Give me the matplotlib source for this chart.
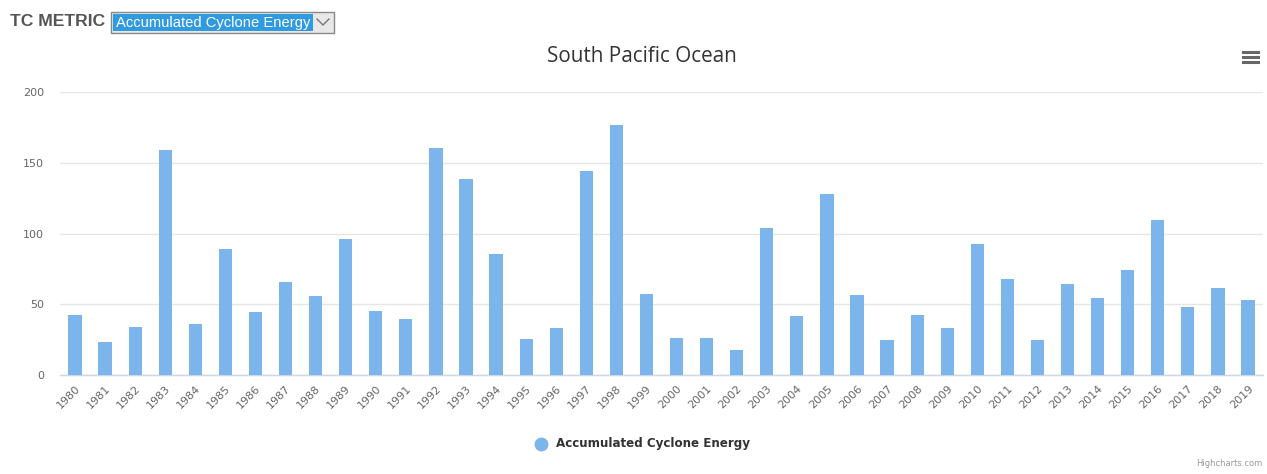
import matplotlib
matplotlib.use("Agg")
import matplotlib.pyplot as plt
from matplotlib.patches import Rectangle
from matplotlib.lines import Line2D

years = [str(y) for y in range(1980, 2020)]
ace = [42.7, 23.3, 34.0, 159.2, 36.1, 88.9, 44.3, 65.6, 55.9, 96.0,
       45.0, 39.6, 160.1, 138.7, 85.8, 25.2, 33.3, 144.3, 176.4, 57.5,
       26.2, 26.2, 17.5, 104.2, 41.7, 127.8, 56.8, 24.5, 42.7, 33.3,
       92.9, 67.7, 24.5, 64.2, 54.5, 74.3, 109.7, 47.9, 61.6, 52.8]
yticks = [0, 50, 100, 150, 200]
series_name = "Accumulated Cyclone Energy"
title = "South Pacific Ocean"

W, H = 1267, 474
fig = plt.figure(figsize=(W / 100, H / 100), dpi=100)
fig.patch.set_facecolor("white")

ax = fig.add_axes([60 / W, 1 - 375 / H, (1263 - 60) / W, (375 - 92) / H])
x = list(range(len(years)))
ax.bar(x, ace, width=0.44, color="#7cb5ec", zorder=3)
ax.set_xlim(-0.5, len(years) - 0.5)
ax.set_ylim(0, 200)
ax.set_yticks(yticks)
ax.set_yticklabels([str(v) for v in yticks], fontsize=8, color="#666666")
ax.set_xticks(x)
ax.set_xticklabels(years, rotation=45, ha="right", rotation_mode="anchor",
                   fontsize=8, color="#666666")
ax.tick_params(axis="y", length=0, pad=11.5)
ax.tick_params(axis="x", length=0, pad=6)
ax.grid(axis="y", color="#e6e6e6", linewidth=1, zorder=0)
for s in ["top", "right", "left"]:
    ax.spines[s].set_visible(False)
ax.spines["bottom"].set_color("#ccd6eb")
ax.spines["bottom"].set_linewidth(1)
ax.set_facecolor("white")

# Title
fig.text(642 / W, 1 - 56 / H, title, ha="center", va="center", fontsize=14.9,
         color="#333333", family="Open Sans")

# Header: TC METRIC + dropdown
fig.text(10 / W, 1 - 22 / H, "TC METRIC", ha="left", va="center", fontsize=12.6,
         fontweight="bold", color="#555555", family="Liberation Sans")
fig.patches.append(Rectangle((111 / W, 1 - 33 / H), (334 - 111) / W, 21 / H,
                             transform=fig.transFigure, facecolor="#e8e8e8",
                             edgecolor="#888888", linewidth=1))
fig.patches.append(Rectangle((113 / W, 1 - 31 / H), (313 - 113) / W, 17 / H,
                             transform=fig.transFigure, facecolor="#2f9ae0",
                             edgecolor="none"))
fig.text(116 / W, 1 - 22.5 / H, series_name, ha="left", va="center", fontsize=10.6,
         color="white", family="Liberation Sans")
fig.add_artist(Line2D([317 / W, 323 / W, 329 / W],
                      [1 - 19 / H, 1 - 25 / H, 1 - 19 / H],
                      transform=fig.transFigure, color="#777777", linewidth=1))

# Hamburger menu
for yy in [52, 57, 62]:
    fig.add_artist(Line2D([1243 / W, 1258 / W], [1 - yy / H, 1 - yy / H],
                          transform=fig.transFigure, color="#666666", linewidth=2.2))

# Legend
fig.add_artist(Line2D([541 / W], [1 - 444 / H], marker="o", markersize=9,
                      color="#7cb5ec", transform=fig.transFigure, linestyle="none"))
fig.text(556 / W, 1 - 444 / H, series_name, ha="left", va="center", fontsize=8.6,
         fontweight="bold", color="#333333", family="DejaVu Sans")

# Credits
fig.text(1262 / W, 1 - 464 / H, "Highcharts.com", ha="right", va="center",
         fontsize=6, color="#999999")

fig.savefig("out.png", dpi=100, facecolor="white")
